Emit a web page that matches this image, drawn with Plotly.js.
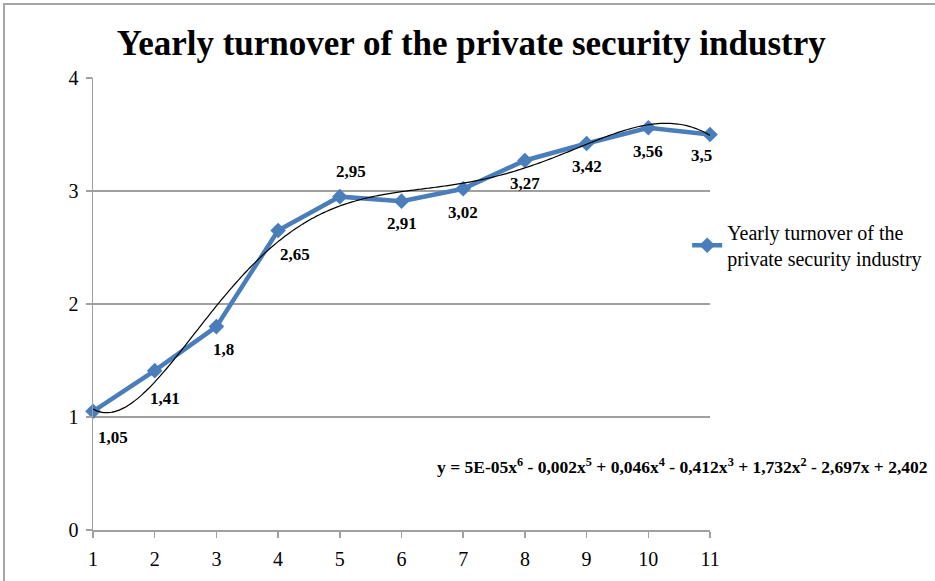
<!DOCTYPE html>
<html>
<head>
<meta charset="utf-8">
<script src="https://cdn.plot.ly/plotly-3.0.1.min.js"></script>
<style>
  html, body { margin: 0; padding: 0; background: #fff; overflow: hidden; }
  #frame { position: absolute; left: 3px; top: 3px; width: 1000px; height: 700px;
           border-top: 2px solid #a6a6a6; border-left: 2px solid #a6a6a6; pointer-events: none; z-index: 5; }
  #chart { position: absolute; left: 0; top: 0; width: 935px; height: 581px; }
</style>
</head>
<body>
<div id="chart"></div>
<div id="frame"></div>
<script>
// Yearly turnover series
const years = [1, 2, 3, 4, 5, 6, 7, 8, 9, 10, 11];
const turnover = [1.05, 1.41, 1.8, 2.65, 2.95, 2.91, 3.02, 3.27, 3.42, 3.56, 3.5];
const seriesName = 'Yearly turnover of the<br>private security industry';
const trendEquation = 'y = 5E-05x<sup>6</sup> - 0,002x<sup>5</sup> + 0,046x<sup>4</sup> - 0,412x<sup>3</sup> + 1,732x<sup>2</sup> - 2,697x + 2,402';

// label offsets in pixels (dx right, dy down) relative to each point
const labelDx = [20, 10, 7, 17, 11, 0, 0, 0, 0, 0, -9];
const labelDy = [26, 28, 23, 24, -25, 22, 24, 23, 23, 24, 21];

// Least-squares polynomial trendline (degree 6), fitted on scaled x for stability
function polyFit(xs, ys, deg) {
  const c = 6, s = 5;
  const n = deg + 1;
  const A = Array.from({length: n}, () => new Array(n + 1).fill(0));
  xs.forEach((x, k) => {
    const t = (x - c) / s;
    const p = [];
    for (let i = 0; i < n; i++) p.push(Math.pow(t, i));
    for (let i = 0; i < n; i++) {
      for (let j = 0; j < n; j++) A[i][j] += p[i] * p[j];
      A[i][n] += p[i] * ys[k];
    }
  });
  for (let i = 0; i < n; i++) {
    let piv = i;
    for (let r = i + 1; r < n; r++) if (Math.abs(A[r][i]) > Math.abs(A[piv][i])) piv = r;
    [A[i], A[piv]] = [A[piv], A[i]];
    for (let r = 0; r < n; r++) {
      if (r === i) continue;
      const f = A[r][i] / A[i][i];
      for (let j = i; j <= n; j++) A[r][j] -= f * A[i][j];
    }
  }
  const coef = A.map((row, i) => row[n] / row[i]);
  return x => { const t = (x - c) / s; let v = 0; for (let i = n - 1; i >= 0; i--) v = v * t + coef[i]; return v; };
}
const trend = polyFit(years, turnover, 6);
const tx = [], ty = [];
for (let x = years[0]; x <= years[years.length - 1] + 1e-9; x += 0.05) { tx.push(x); ty.push(trend(x)); }

const serif = 'Liberation Serif, Times New Roman, Times, serif';

const traces = [
  {
    x: years, y: turnover, type: 'scatter', mode: 'lines+markers', name: seriesName,
    line: {color: '#4a7ebb', width: 4.5},
    marker: {symbol: 'diamond', size: 12, color: '#4a7ebb'},
    cliponaxis: false
  },
  {
    x: tx, y: ty, type: 'scatter', mode: 'lines', showlegend: false,
    line: {color: '#000', width: 1.2, shape: 'spline'}, hoverinfo: 'skip', cliponaxis: false
  }
];

const annotations = years.map((x, i) => ({
  x: x, y: turnover[i], xref: 'x', yref: 'y',
  text: '<b>' + String(turnover[i]).replace('.', ',') + '</b>',
  showarrow: false, xshift: labelDx[i], yshift: -labelDy[i],
  font: {family: serif, size: 17, color: '#000'}
}));
annotations.push({
  xref: 'paper', yref: 'paper', x: 0.955, y: 0.1416, xanchor: 'center', yanchor: 'middle',
  text: '<b>' + trendEquation + '</b>', showarrow: false,
  font: {family: serif, size: 17.5, color: '#000'}
});

const layout = {
  width: 935, height: 581,
  margin: {l: 93, r: 225, t: 78, b: 51, autoexpand: false},
  paper_bgcolor: '#fff', plot_bgcolor: '#fff',
  font: {family: serif, color: '#000'},
  title: {
    text: '<b>Yearly turnover of the private security industry</b>',
    font: {family: serif, size: 35, color: '#000'},
    x: 0.504, xanchor: 'center', y: 0.927, yanchor: 'middle'
  },
  xaxis: {
    range: [1, 11], tickvals: years, ticktext: years.map(String),
    showgrid: false, zeroline: false, showline: true, linecolor: '#a0a0a0', linewidth: 1.5,
    ticks: 'outside', ticklen: 6, tickcolor: '#a0a0a0', tickwidth: 1.5,
    tickfont: {family: serif, size: 20, color: '#000'}, ticklabelstandoff: 4
  },
  yaxis: {
    range: [0, 4], tickvals: [0, 1, 2, 3, 4],
    showgrid: true, gridcolor: '#a0a0a0', gridwidth: 1.5, zeroline: false,
    showline: true, linecolor: '#a0a0a0', linewidth: 1.5,
    ticks: 'outside', ticklen: 6, tickcolor: '#a0a0a0', tickwidth: 1.5,
    tickfont: {family: serif, size: 20, color: '#000'}, ticklabelstandoff: 3
  },
  showlegend: true,
  legend: {
    x: 0.963, y: 0.63, xanchor: 'left', yanchor: 'middle',
    font: {family: serif, size: 20, color: '#000'}, bgcolor: 'rgba(0,0,0,0)', itemwidth: 30
  },
  annotations: annotations
};

Plotly.newPlot('chart', traces, layout, {displayModeBar: false, staticPlot: true});
</script>
</body>
</html>
